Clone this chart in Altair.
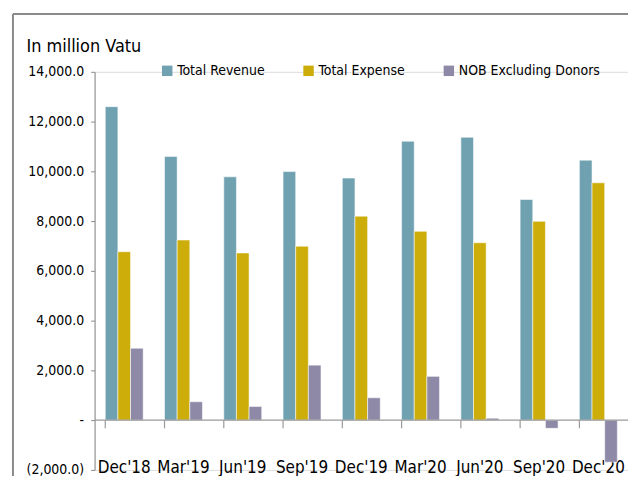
import altair as alt
import pandas as pd

categories = ["Dec'18", "Mar'19", "Jun'19", "Sep'19", "Dec'19", "Mar'20", "Jun'20", "Sep'20", "Dec'20"]
series_names = ["Total Revenue", "Total Expense", "NOB Excluding Donors"]
total_revenue = [12600, 10600, 9780, 9990, 9730, 11210, 11370, 8870, 10450]
total_expense = [6770, 7240, 6720, 6990, 8200, 7590, 7130, 7990, 9540]
nob_excl_donors = [2890, 740, 550, 2210, 900, 1760, 80, -330, -1690]
y_ticks = [-2000, 0, 2000, 4000, 6000, 8000, 10000, 12000, 14000]
colors = ["#6FA1B1", "#CCAD0A", "#8E89A7"]

rows = []
for s, vals in zip(series_names, [total_revenue, total_expense, nob_excl_donors]):
    for c, v in zip(categories, vals):
        rows.append({"period": c, "series": s, "value": v})
df = pd.DataFrame(rows)
cat_df = pd.DataFrame({"period": categories})
one = pd.DataFrame({"a": [0]})

FONT = "DejaVu Sans Condensed, Roboto, sans-serif"

x_scale = alt.Scale(domain=categories, paddingInner=0.36, paddingOuter=0.18)
y_scale = alt.Scale(domain=[-2000, 14000], nice=False)

bars = alt.Chart(df).mark_bar(stroke="#ffffff", strokeOpacity=0.55, strokeWidth=1).encode(
    x=alt.X("period:N", sort=categories, scale=x_scale,
            axis=alt.Axis(title=None, domain=False, ticks=False, labelAngle=0,
                          labelFontSize=17, labelColor="#000000", labelPadding=-10,
                          labelFont=FONT)),
    xOffset=alt.XOffset("series:N", sort=series_names,
                        scale=alt.Scale(domain=series_names, paddingInner=0, paddingOuter=0)),
    y=alt.Y("value:Q", scale=y_scale,
            axis=alt.Axis(title="In million Vatu", titleAngle=0, titleX=-69, titleY=-20,
                          titleAlign="left", titleBaseline="alphabetic",
                          titleFontSize=18, titleFontWeight="normal", titleFont=FONT,
                          titleColor="#000000",
                          values=y_ticks, grid=False, domainColor="#8c8c8c",
                          tickColor="#8c8c8c", tickSize=4, labelPadding=7,
                          labelFontSize=14, labelColor="#000000", labelFont=FONT,
                          labelExpr="datum.value == 0 ? '-' : (datum.value < 0 ? '(' + format(-datum.value, ',.1f') + ')' : format(datum.value, ',.1f'))")),
    color=alt.Color("series:N", sort=series_names,
                    scale=alt.Scale(domain=series_names, range=colors),
                    legend=alt.Legend(title=None, orient="none", legendX=66, legendY=-8,
                                      direction="horizontal", columns=3, symbolType="square",
                                      symbolSize=110, symbolStrokeWidth=0,
                                      labelFontSize=14, labelFont=FONT, labelColor="#000000",
                                      columnPadding=37, labelOffset=3, labelLimit=200)),
)

zero_line = alt.Chart(one).mark_rule(color="#9a9a9a", strokeWidth=1.2).encode(y=alt.datum(0))

cat_ticks = alt.Chart(cat_df).mark_rule(color="#9a9a9a", strokeWidth=1.2).encode(
    x=alt.X("period:N", sort=categories, bandPosition=0, scale=x_scale),
    y=alt.datum(0),
    y2=alt.datum(-330),
)

frame_left = alt.Chart(one).mark_rule(color="#8a8a8a", strokeWidth=2).encode(
    x=alt.value(-82), y=alt.value(-58), y2=alt.value(430))
frame_top = alt.Chart(one).mark_rule(color="#8a8a8a", strokeWidth=2).encode(
    x=alt.value(-82), x2=alt.value(560), y=alt.value(-58))

chart = alt.layer(bars, zero_line, cat_ticks, frame_left, frame_top).properties(
    width=536, height=400,
    autosize=alt.AutoSizeParams(type="none"),
    padding={"left": 87, "top": 63, "right": 0, "bottom": 5},
).configure_view(stroke=None).configure(font=FONT)

chart.save("out.html", embed_options={"renderer": "svg", "actions": False})
